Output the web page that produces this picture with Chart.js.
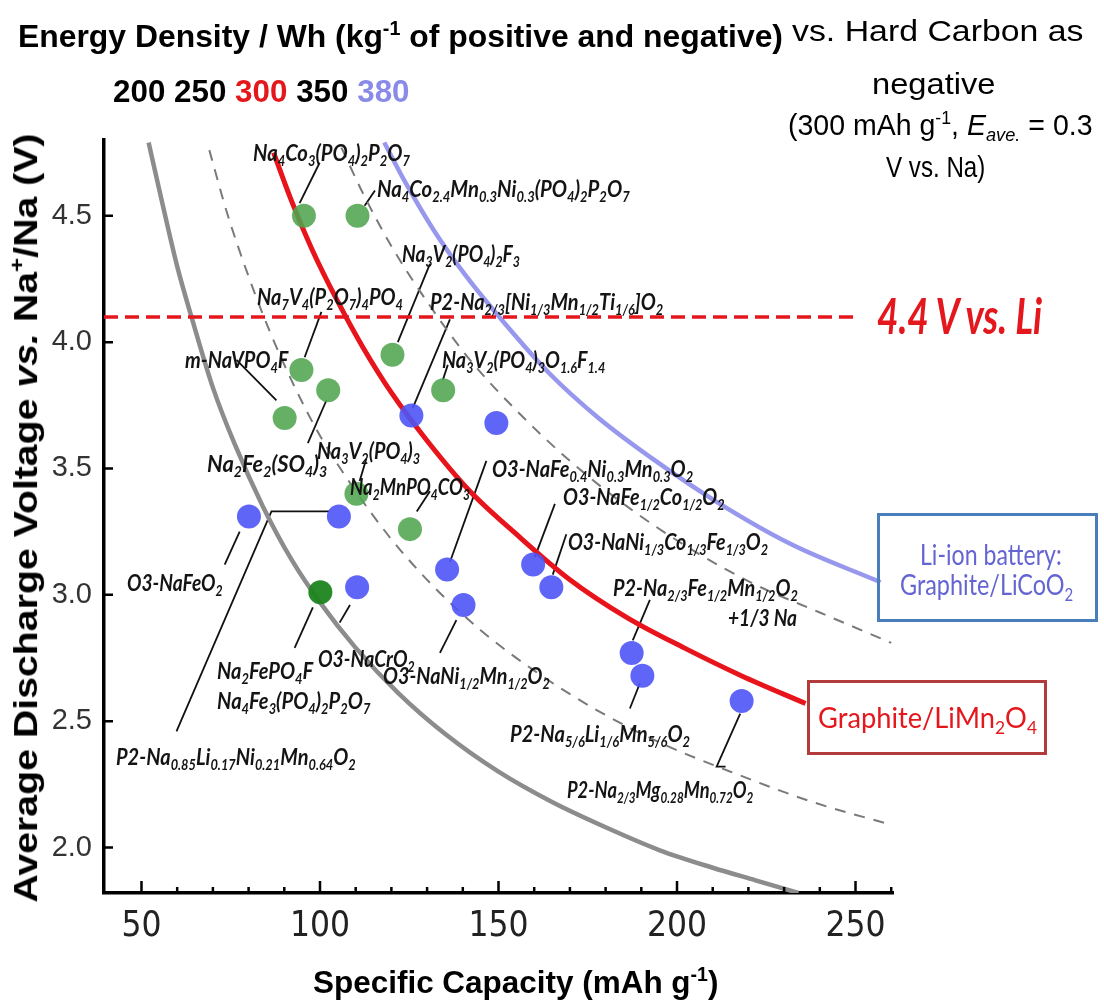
<!DOCTYPE html>
<html>
<head>
<meta charset="utf-8">
<script src="https://cdn.jsdelivr.net/npm/chart.js@4.4.1/dist/chart.umd.min.js"></script>
<style>
html, body { margin: 0; padding: 0; background: #fff; }
#wrap { position: relative; width: 1104px; height: 1004px; overflow: hidden; }
#c { position: absolute; left: 0; top: 0; }
.t { position: absolute; white-space: nowrap; line-height: 1; }
sub { font-size: 0.64em; vertical-align: -0.32em; line-height: 0; }
sup { font-size: 0.62em; vertical-align: 0.6em; line-height: 0; }
.hd { font-family: "Liberation Sans", Arial, sans-serif; font-weight: bold; font-size: 32px; color: #000; }
.yt { font-family: "Liberation Sans", Arial, sans-serif; font-weight: bold; font-size: 34px; color: #000; }
.rg { font-family: "Liberation Sans", Arial, sans-serif; font-size: 30px; color: #000; }
.li { font-family: Lato, "Open Sans", sans-serif; font-weight: bold; font-style: italic; font-size: 50px; color: #e3171c; }
.bx { font-family: Lato, "Open Sans", sans-serif; font-size: 28px; }
.lbl { font-family: Lato, "Open Sans", sans-serif; font-weight: bold; font-style: italic; font-size: 23px; color: #141414; }
.box { position: absolute; box-sizing: border-box; border: 3px solid; }
</style>
</head>
<body>
<div id="wrap">
  <canvas id="c" width="1104" height="1004"></canvas>
  <div class="box" style="left:877px;top:513px;width:221px;height:109px;border-color:#4a7ebb"></div>
  <div class="box" style="left:807px;top:680px;width:240px;height:75px;border-color:#b23b3b"></div>
</div>
<script>
// iso-energy lines, Wh per kg of positive + negative (x: mAh g-1, y: V)
const wh200 = [[52,4.79],[56,4.54],[60,4.30],[64,4.10],[70,3.82],[76,3.60],[84,3.35],[92,3.14],[100,2.97],[110,2.79],[122,2.61],[135,2.45],[150,2.30],[165,2.18],[180,2.08],[195,1.99],[210,1.92],[222,1.87],[234,1.82]];
const wh250 = [[69,4.76],[74,4.51],[80,4.26],[86,4.04],[93,3.82],[100,3.63],[110,3.41],[120,3.22],[132,3.03],[145,2.86],[160,2.70],[178,2.54],[196,2.41],[215,2.30],[238,2.18],[260,2.09]];
const wh300 = [[87,4.75],[92,4.56],[98,4.36],[105,4.16],[112,3.98],[120,3.80],[130,3.61],[142,3.41],[155,3.24],[170,3.06],[186,2.91],[202,2.79],[218,2.68],[236,2.57]];
const wh350 = [[106,4.77],[112,4.59],[120,4.38],[130,4.16],[142,3.93],[155,3.73],[170,3.53],[186,3.35],[204,3.18],[222,3.04],[240,2.93],[260,2.81]];
const wh380 = [[118,4.79],[124,4.63],[132,4.44],[141,4.26],[152,4.07],[164,3.88],[178,3.70],[194,3.53],[212,3.36],[232,3.20],[257,3.05]];

// 4.4 V vs. Li limit
const liLimit = [[39.5,4.10],[250,4.10]];

// materials (capacity, voltage)
const polyanion = [[95.5,4.50],[110.5,4.50],[120.3,3.95],[134.5,3.81],[94.8,3.89],[90.1,3.70],[102.3,3.81],[110.2,3.40],[125.2,3.26]];
const fluoroPhosphate = [[100.1,3.01]];
const layeredOxide = [[80.1,3.31],[105.3,3.31],[110.4,3.03],[135.6,3.10],[140.2,2.96],[159.7,3.12],[164.8,3.03],[187.3,2.77],[190.3,2.68],[218.1,2.58],[125.6,3.71],[149.4,3.68]];

const xTickLabels = [50, 100, 150, 200, 250];

// material labels, anchored in data units (left edge, middle)
const labels = [
  {h:'Na<sub>4</sub>Co<sub>3</sub>(PO<sub>4</sub>)<sub>2</sub>P<sub>2</sub>O<sub>7</sub>', q:81.2, v:4.75, w:157},
  {h:'Na<sub>4</sub>Co<sub>2.4</sub>Mn<sub>0.3</sub>Ni<sub>0.3</sub>(PO<sub>4</sub>)<sub>2</sub>P<sub>2</sub>O<sub>7</sub>', q:115.9, v:4.61, w:253},
  {h:'Na<sub>3</sub>V<sub>2</sub>(PO<sub>4</sub>)<sub>2</sub>F<sub>3</sub>', q:122.9, v:4.35, w:118},
  {h:'P2-Na<sub>2/3</sub>[Ni<sub>1/3</sub>Mn<sub>1/2</sub>Ti<sub>1/6</sub>]O<sub>2</sub>', q:130.8, v:4.16, w:233},
  {h:'Na<sub>3</sub>V<sub>2</sub>(PO<sub>4</sub>)<sub>3</sub>O<sub>1.6</sub>F<sub>1.4</sub>', q:134.1, v:3.93, w:163},
  {h:'Na<sub>7</sub>V<sub>4</sub>(P<sub>2</sub>O<sub>7</sub>)<sub>4</sub>PO<sub>4</sub>', q:82.3, v:4.18, w:146},
  {h:'m-NaVPO<sub>4</sub>F', q:62.1, v:3.93, w:103},
  {h:'Na<sub>3</sub>V<sub>2</sub>(PO<sub>4</sub>)<sub>3</sub>', q:99.1, v:3.57, w:103},
  {h:'Na<sub>2</sub>Fe<sub>2</sub>(SO<sub>4</sub>)<sub>3</sub>', q:68.3, v:3.52, w:120},
  {h:'Na<sub>2</sub>MnPO<sub>4</sub>CO<sub>3</sub>', q:108.3, v:3.43, w:120},
  {h:'O3-NaFe<sub>0.4</sub>Ni<sub>0.3</sub>Mn<sub>0.3</sub>O<sub>2</sub>', q:148.1, v:3.50, w:201},
  {h:'O3-NaFe<sub>1/2</sub>Co<sub>1/2</sub>O<sub>2</sub>', q:168.0, v:3.39, w:162},
  {h:'O3-NaNi<sub>1/3</sub>Co<sub>1/3</sub>Fe<sub>1/3</sub>O<sub>2</sub>', q:169.4, v:3.21, w:200},
  {h:'P2-Na<sub>2/3</sub>Fe<sub>1/2</sub>Mn<sub>1/2</sub>O<sub>2</sub>', q:182.0, v:3.03, w:185},
  {h:'+1/3 Na', q:214.2, v:2.91, w:69},
  {h:'P2-Na<sub>5/6</sub>Li<sub>1/6</sub>Mn<sub>5/6</sub>O<sub>2</sub>', q:153.2, v:2.45, w:180},
  {h:'P2-Na<sub>2/3</sub>Mg<sub>0.28</sub>Mn<sub>0.72</sub>O<sub>2</sub>', q:169.2, v:2.23, w:186},
  {h:'O3-NaNi<sub>1/2</sub>Mn<sub>1/2</sub>O<sub>2</sub>', q:117.6, v:2.68, w:167},
  {h:'O3-NaCrO<sub>2</sub>', q:99.4, v:2.75, w:97},
  {h:'Na<sub>2</sub>FePO<sub>4</sub>F', q:71.1, v:2.70, w:96},
  {h:'Na<sub>4</sub>Fe<sub>3</sub>(PO<sub>4</sub>)<sub>2</sub>P<sub>2</sub>O<sub>7</sub>', q:71.1, v:2.58, w:153},
  {h:'O3-NaFeO<sub>2</sub>', q:45.9, v:3.05, w:96},
  {h:'P2-Na<sub>0.85</sub>Li<sub>0.17</sub>Ni<sub>0.21</sub>Mn<sub>0.64</sub>O<sub>2</sub>', q:43.0, v:2.36, w:240}
];

// leader lines from labels to points, data units
const leaders = [
  [[99.9,4.71],[94.3,4.55]],
  [[115.4,4.60],[112.5,4.54]],
  [[130.8,4.31],[121.8,4.00]],
  [[136.4,4.09],[126.0,3.74]],
  [[135.8,3.91],[134.4,3.85]],
  [[100.4,4.12],[95.7,3.94]],
  [[76.6,3.93],[87.8,3.77]],
  [[96.6,3.60],[101.8,3.77]],
  [[113.0,3.54],[111.1,3.45]],
  [[130.8,3.41],[127.1,3.33]],
  [[146.6,3.53],[136.4,3.13]],
  [[165.8,3.36],[160.2,3.15]],
  [[169.0,3.24],[165.2,3.08]],
  [[192.4,2.98],[187.6,2.82]],
  [[186.8,2.55],[189.6,2.65]],
  [[213.6,2.32],[211.1,2.32],[217.7,2.53]],
  [[133.6,2.77],[138.2,2.90]],
  [[105.5,2.89],[108.4,2.96]],
  [[92.9,2.79],[98.0,2.95]],
  [[73.3,3.12],[77.5,3.25]],
  [[59.8,2.46],[86.4,3.33],[102.7,3.33]]
];

// page texts, pixel layout (left, middle of caps, width)
const pageTexts = [
  {h:'Energy Density / Wh (kg<sup>-1</sup> of positive and negative)', c:'hd', x:18, y:36, w:765},
  {h:'200 250 <span style="color:#e3171c">300</span> 350 <span style="color:#8a8ae8">380</span>', c:'hd', x:113, y:91, w:297},
  {h:'vs. Hard Carbon as', c:'rg', x:792, y:31, w:291},
  {h:'negative', c:'rg', x:872, y:84, w:123},
  {h:'(300 mAh g<sup>-1</sup>, <i>E</i><sub><i>ave.</i></sub> = 0.3', c:'rg', x:788, y:125, w:305},
  {h:'V vs. Na)', c:'rg', x:886, y:167, w:99},
  {h:'4.4 V vs. Li', c:'li', x:877, y:315, w:165},
  {h:'Li-ion battery:', c:'bx', x:920, y:554, w:142, col:'#6464d2'},
  {h:'Graphite/LiCoO<sub>2</sub>', c:'bx', x:900, y:584, w:173, col:'#6464d2'},
  {h:'Graphite/LiMn<sub>2</sub>O<sub>4</sub>', c:'bx', x:818, y:717, w:219, col:'#e3171c'},
  {h:'Specific Capacity (mAh g<sup>-1</sup>)', c:'hd', x:313, y:982, w:405},
  {h:'Average Discharge Voltage <i>vs.</i> Na<sup>+</sup>/Na (V)', c:'yt', x:25, y:518, w:769, rot:true}
];

const pts = a => a.map(([x, y]) => ({x, y}));
const tickFont = '"Liberation Sans Narrow", "DejaVu Sans Condensed", "Liberation Sans", sans-serif';

function curve(data, color, width, dash) {
  return {
    data: pts(data), showLine: true, borderColor: color, borderWidth: width,
    borderDash: dash || [], pointRadius: 0, cubicInterpolationMode: 'monotone', order: 2
  };
}
function dots(data, color) {
  return {data: pts(data), showLine: false, backgroundColor: color, borderWidth: 0, pointRadius: 12, order: 0};
}

// tick marks point into the plot
const inwardTicks = {
  id: 'inwardTicks',
  afterDraw(chart) {
    const {ctx, chartArea: a, scales: {x, y}} = chart;
    ctx.save();
    ctx.strokeStyle = '#000';
    ctx.lineWidth = 2.5;
    ctx.beginPath();
    x.ticks.forEach(t => {
      if (t.value < 45) return;
      const px = x.getPixelForValue(t.value);
      const len = xTickLabels.includes(t.value) ? 12 : 6;
      ctx.moveTo(px, a.bottom); ctx.lineTo(px, a.bottom - len);
    });
    y.ticks.forEach(t => {
      const py = y.getPixelForValue(t.value);
      ctx.moveTo(a.left, py); ctx.lineTo(a.left + 9, py);
    });
    ctx.stroke();
    ctx.restore();
  }
};

const leaderLines = {
  id: 'leaderLines',
  beforeDatasetsDraw(chart) {
    const {ctx, scales: {x, y}} = chart;
    ctx.save();
    ctx.strokeStyle = '#111';
    ctx.lineWidth = 1.8;
    leaders.forEach(l => {
      ctx.beginPath();
      l.forEach(([q, v], i) => {
        const px = x.getPixelForValue(q), py = y.getPixelForValue(v);
        if (i === 0) ctx.moveTo(px, py); else ctx.lineTo(px, py);
      });
      ctx.stroke();
    });
    ctx.restore();
  }
};

const chart = new Chart(document.getElementById('c'), {
  type: 'scatter',
  data: {
    datasets: [
      dots(fluoroPhosphate, 'rgba(30,132,30,0.95)'),
      dots(polyanion, 'rgba(80,165,80,0.88)'),
      dots(layeredOxide, 'rgba(78,84,245,0.9)'),
      curve(liLimit, '#e3171c', 3.5, [14, 7]),
      curve(wh380, 'rgba(140,140,236,0.9)', 4.5),
      curve(wh300, '#e8141c', 5),
      curve(wh350, '#7a7a7a', 2, [11, 9]),
      curve(wh250, '#7a7a7a', 2, [11, 9]),
      curve(wh200, '#8c8c8c', 4.5)
    ]
  },
  options: {
    responsive: false,
    animation: false,
    events: [],
    layout: {padding: {left: 0, top: 140, right: 211, bottom: 0}},
    plugins: {legend: {display: false}, tooltip: {enabled: false}},
    scales: {
      x: {
        type: 'linear', min: 39.5, max: 260.5,
        afterFit: s => { s.height = 111; },
        grid: {display: false, drawTicks: false},
        border: {display: true, color: '#000', width: 3.5},
        ticks: {
          stepSize: 10, includeBounds: false, autoSkip: false, maxRotation: 0, padding: 13,
          color: '#222', font: {family: tickFont, size: 35},
          callback: v => xTickLabels.includes(v) ? String(v) : ''
        }
      },
      y: {
        type: 'linear', min: 1.82, max: 4.8,
        afterFit: s => { s.width = 104; },
        grid: {display: false, drawTicks: false},
        border: {display: true, color: '#000', width: 3.5},
        ticks: {
          stepSize: 0.5, includeBounds: false, padding: 12,
          color: '#333', font: {family: '"Liberation Sans", Arial, sans-serif', size: 29},
          callback: v => v.toFixed(1)
        }
      }
    }
  },
  plugins: [leaderLines, inwardTicks]
});

// build html texts
const wrap = document.getElementById('wrap');
function make(spec, cls) {
  const el = document.createElement('div');
  el.className = 't ' + cls;
  el.innerHTML = spec.h;
  if (spec.col) el.style.color = spec.col;
  wrap.appendChild(el);
  spec.el = el;
}
pageTexts.forEach(s => make(s, s.c));
labels.forEach(s => make(s, 'lbl'));

function put(spec, left, cy) {
  const el = spec.el;
  el.style.transform = 'none';
  const W = el.offsetWidth, H = el.offsetHeight;
  const k = spec.w / W;
  if (spec.rot) {
    el.style.left = (left - W / 2) + 'px';
    el.style.top = (cy - H / 2) + 'px';
    el.style.transformOrigin = '50% 50%';
    el.style.transform = 'rotate(-90deg) scaleX(' + k + ')';
  } else {
    el.style.left = left + 'px';
    el.style.top = (cy - H / 2) + 'px';
    el.style.transformOrigin = '0 50%';
    el.style.transform = 'scaleX(' + k + ')';
  }
}

function layoutTexts() {
  const {x, y} = chart.scales;
  pageTexts.forEach(s => put(s, s.x, s.y));
  labels.forEach(s => put(s, x.getPixelForValue(s.q), y.getPixelForValue(s.v)));
}
layoutTexts();
if (document.fonts) document.fonts.ready.then(layoutTexts);
</script>
</body>
</html>
